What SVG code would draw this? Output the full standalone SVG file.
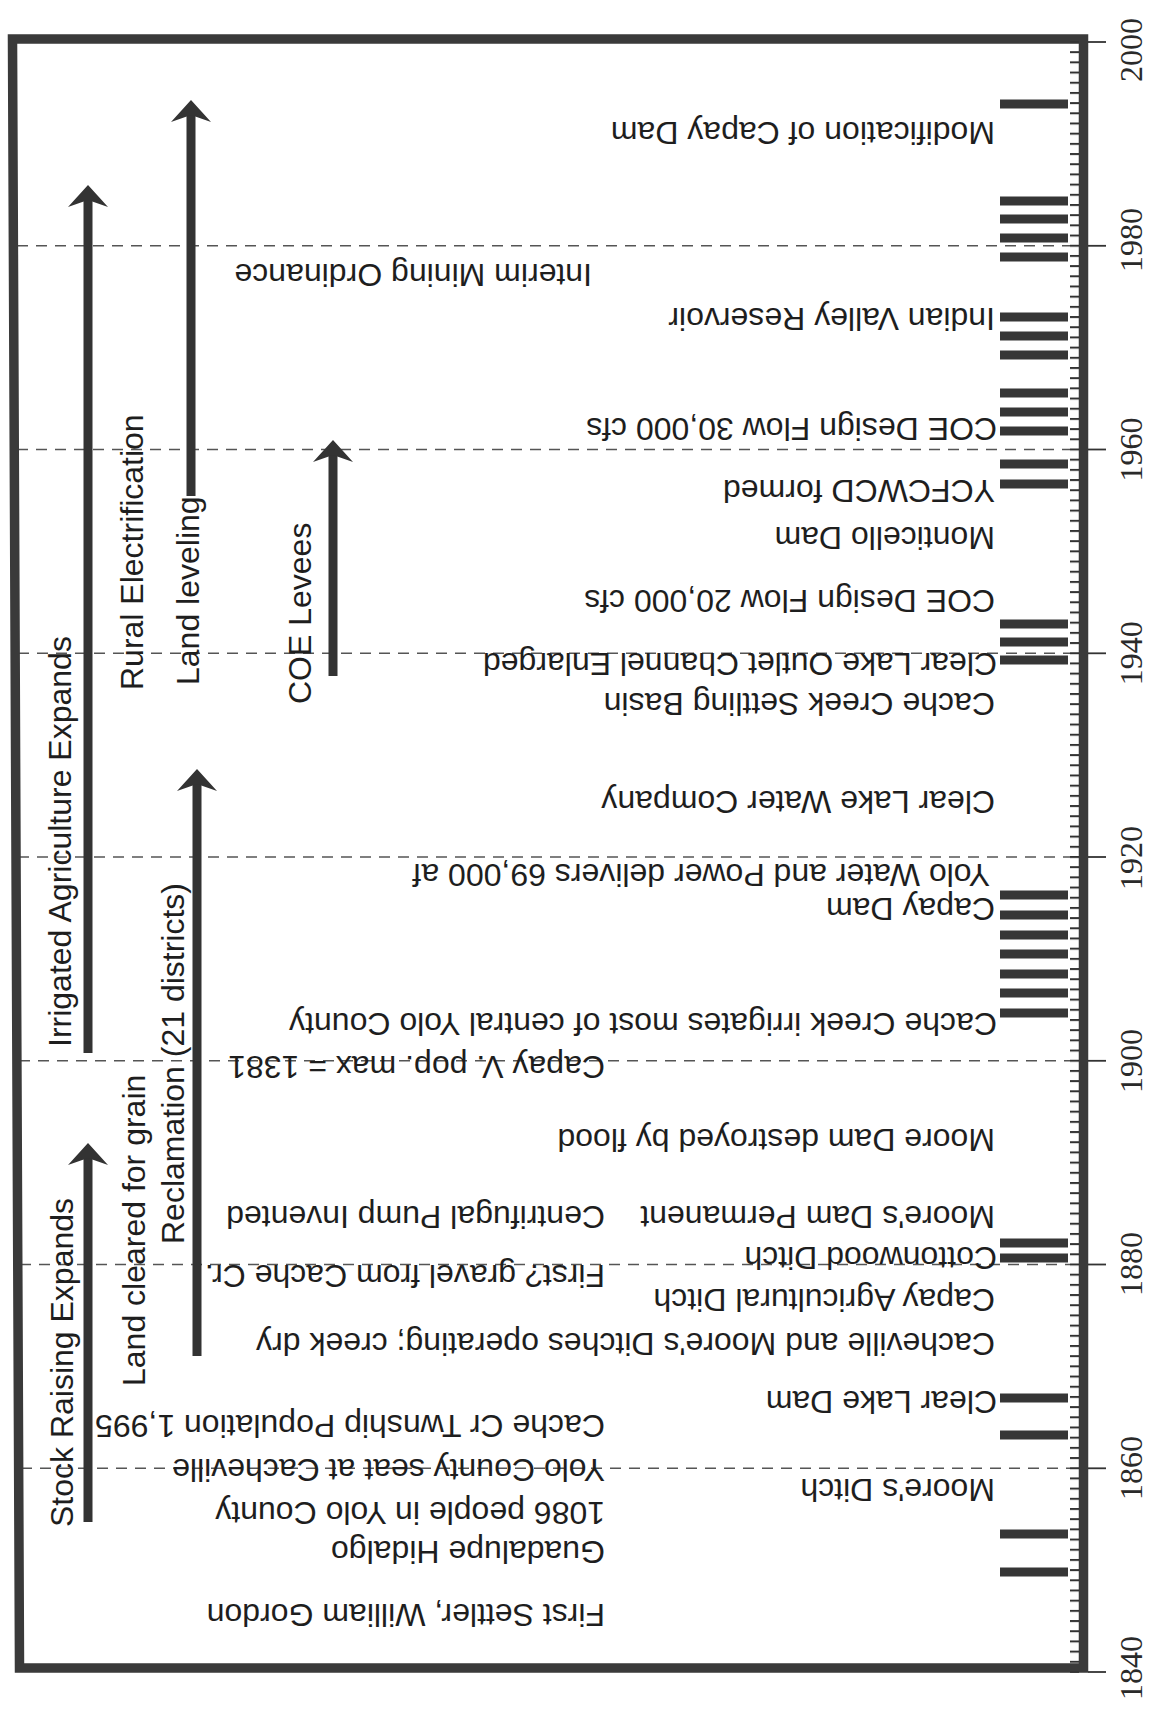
<svg xmlns="http://www.w3.org/2000/svg" width="1151" height="1711" viewBox="0 0 1151 1711">
<style>
.ev{font-family:"Liberation Sans",Arial,sans-serif;font-size:32px;fill:#1e1e1e}
.vl{font-family:"Liberation Sans",Arial,sans-serif;font-size:32px;fill:#1e1e1e}
.yr{font-family:"Liberation Serif","Times New Roman",serif;font-size:32px;fill:#2a2a2a;text-anchor:middle}
.grid{stroke:#555;stroke-width:1.6;stroke-dasharray:11 8;fill:none}
.bar{fill:#363636}
.shaft{stroke:#333;stroke-width:9;fill:none}
.head{fill:#333}
.major{stroke:#333;stroke-width:1.8}
</style>
<defs>
<pattern id="minorTicks" x="0" y="41" width="9" height="10.1875" patternUnits="userSpaceOnUse">
<rect x="0" y="0" width="9" height="2" fill="#333"/>
</pattern>
<path id="head" d="M0,0 L20,22 L0,15 L-20,22 Z"/>
</defs>
<rect width="1151" height="1711" fill="#ffffff"/>

<g id="gridlines">
<line class="grid" x1="17" y1="245.8" x2="1070" y2="245.8"/>
<line class="grid" x1="17" y1="449.5" x2="1070" y2="449.5"/>
<line class="grid" x1="18" y1="653.3" x2="1070" y2="653.3"/>
<line class="grid" x1="18" y1="857" x2="1070" y2="857"/>
<line class="grid" x1="19" y1="1060.8" x2="1070" y2="1060.8"/>
<line class="grid" x1="20" y1="1264.5" x2="1070" y2="1264.5"/>
<line class="grid" x1="21" y1="1468.3" x2="1070" y2="1468.3"/>
</g>

<g id="frame">
<path d="M12.5,39 L1083.5,39 L1083.5,1668 L19.5,1668 Z" fill="none" stroke="#3a3a3a" stroke-width="9.5" stroke-linejoin="miter"/>
</g>

<g id="axis">
<rect x="1070" y="41" width="9" height="1632" fill="url(#minorTicks)"/>
<line class="major" x1="1088" y1="42" x2="1106" y2="42"/>
<line class="major" x1="1088" y1="245.8" x2="1106" y2="245.8"/>
<line class="major" x1="1088" y1="449.5" x2="1106" y2="449.5"/>
<line class="major" x1="1088" y1="653.3" x2="1106" y2="653.3"/>
<line class="major" x1="1088" y1="857" x2="1106" y2="857"/>
<line class="major" x1="1088" y1="1060.8" x2="1106" y2="1060.8"/>
<line class="major" x1="1088" y1="1264.5" x2="1106" y2="1264.5"/>
<line class="major" x1="1088" y1="1468.3" x2="1106" y2="1468.3"/>
<line class="major" x1="1088" y1="1672" x2="1106" y2="1672"/>
<text class="yr" x="1142" y="50" transform="rotate(-90 1142 50)">2000</text>
<text class="yr" x="1142" y="240" transform="rotate(-90 1142 240)">1980</text>
<text class="yr" x="1142" y="449.5" transform="rotate(-90 1142 449.5)">1960</text>
<text class="yr" x="1142" y="653.3" transform="rotate(-90 1142 653.3)">1940</text>
<text class="yr" x="1142" y="858" transform="rotate(-90 1142 858)">1920</text>
<text class="yr" x="1142" y="1061" transform="rotate(-90 1142 1061)">1900</text>
<text class="yr" x="1142" y="1264" transform="rotate(-90 1142 1264)">1880</text>
<text class="yr" x="1142" y="1468" transform="rotate(-90 1142 1468)">1860</text>
<text class="yr" x="1142" y="1668" transform="rotate(-90 1142 1668)">1840</text>
</g>

<g id="event-bars">
<rect class="bar" x="1000" y="99.5" width="68" height="9"/>
<rect class="bar" x="1000" y="196.5" width="68" height="9"/>
<rect class="bar" x="1000" y="214.5" width="68" height="9"/>
<rect class="bar" x="1000" y="233.5" width="68" height="9"/>
<rect class="bar" x="1000" y="252.5" width="68" height="9"/>
<rect class="bar" x="1000" y="312.5" width="68" height="9"/>
<rect class="bar" x="1000" y="331.5" width="68" height="9"/>
<rect class="bar" x="1000" y="350.5" width="68" height="9"/>
<rect class="bar" x="1000" y="388.5" width="68" height="9"/>
<rect class="bar" x="1000" y="407.5" width="68" height="9"/>
<rect class="bar" x="1000" y="426.5" width="68" height="9"/>
<rect class="bar" x="1000" y="459.5" width="68" height="9"/>
<rect class="bar" x="1000" y="479.5" width="68" height="9"/>
<rect class="bar" x="1000" y="619.5" width="68" height="9"/>
<rect class="bar" x="1000" y="637.5" width="68" height="9"/>
<rect class="bar" x="1000" y="655.5" width="68" height="9"/>
<rect class="bar" x="1000" y="890.5" width="68" height="9"/>
<rect class="bar" x="1000" y="910.5" width="68" height="9"/>
<rect class="bar" x="1000" y="930.5" width="68" height="9"/>
<rect class="bar" x="1000" y="949.5" width="68" height="9"/>
<rect class="bar" x="1000" y="969.5" width="68" height="9"/>
<rect class="bar" x="1000" y="988.5" width="68" height="9"/>
<rect class="bar" x="1000" y="1008.5" width="68" height="9"/>
<rect class="bar" x="1000" y="1238.5" width="68" height="9"/>
<rect class="bar" x="1000" y="1253.5" width="68" height="9"/>
<rect class="bar" x="1000" y="1393.5" width="68" height="9"/>
<rect class="bar" x="1000" y="1430.5" width="68" height="9"/>
<rect class="bar" x="1000" y="1529.5" width="68" height="9"/>
<rect class="bar" x="1000" y="1567.5" width="68" height="9"/>
</g>

<g id="events">
<g id="ev-modification"><text class="ev" x="995" y="122" transform="rotate(180 995 122)">Modification of Capay Dam</text></g>
<g id="ev-interim"><text class="ev" x="592" y="264" transform="rotate(180 592 264)">Interim Mining Ordinance</text></g>
<g id="ev-indian-valley"><text class="ev" x="995" y="308" transform="rotate(180 995 308)">Indian Valley Reservoir</text></g>
<g id="ev-coe30"><text class="ev" x="997" y="418" transform="rotate(180 997 418)">COE Design Flow 30,000 cfs</text></g>
<g id="ev-ycfcwcd"><text class="ev" x="995" y="480" transform="rotate(180 995 480)">YCFCWCD formed</text></g>
<g id="ev-monticello"><text class="ev" x="995" y="527" transform="rotate(180 995 527)">Monticello Dam</text></g>
<g id="ev-coe20"><text class="ev" x="995" y="590" transform="rotate(180 995 590)">COE Design Flow 20,000 cfs</text></g>
<g id="ev-outlet"><text class="ev" x="997" y="653" transform="rotate(180 997 653)">Clear Lake Outlet Channel Enlarged</text></g>
<g id="ev-settling"><text class="ev" x="995" y="693" transform="rotate(180 995 693)">Cache Creek Settling Basin</text></g>
<g id="ev-clwc"><text class="ev" x="995" y="791" transform="rotate(180 995 791)">Clear Lake Water Company</text></g>
<g id="ev-yolo-water"><text class="ev" x="990" y="864" transform="rotate(180 990 864)">Yolo Water and Power delivers 69,000 af</text></g>
<g id="ev-capay-dam"><text class="ev" x="995" y="898" transform="rotate(180 995 898)">Capay Dam</text></g>
<g id="ev-irrigates"><text class="ev" x="997" y="1013" transform="rotate(180 997 1013)">Cache Creek irrigates most of central Yolo County</text></g>
<g id="ev-capay-pop"><text class="ev" x="605" y="1056" transform="rotate(180 605 1056)">Capay V. pop. max = 1381</text></g>
<g id="ev-moore-flood"><text class="ev" x="995" y="1129" transform="rotate(180 995 1129)">Moore Dam destroyed by flood</text></g>
<g id="ev-moore-perm"><text class="ev" x="995" y="1206" transform="rotate(180 995 1206)">Moore's Dam Permanent</text></g>
<g id="ev-pump"><text class="ev" x="605" y="1206" transform="rotate(180 605 1206)">Centrifugal Pump Invented</text></g>
<g id="ev-cottonwood"><text class="ev" x="997" y="1247" transform="rotate(180 997 1247)">Cottonwood Ditch</text></g>
<g id="ev-gravel"><text class="ev" x="605" y="1265" transform="rotate(180 605 1265)">First? gravel from Cache Cr.</text></g>
<g id="ev-capay-ditch"><text class="ev" x="995" y="1289" transform="rotate(180 995 1289)">Capay Agricultural Ditch</text></g>
<g id="ev-cacheville"><text class="ev" x="995" y="1333" transform="rotate(180 995 1333)">Cacheville and Moore's Ditches operating; creek dry</text></g>
<g id="ev-clear-lake-dam"><text class="ev" x="997" y="1391" transform="rotate(180 997 1391)">Clear Lake Dam</text></g>
<g id="ev-twnship"><text class="ev" x="605" y="1415" transform="rotate(180 605 1415)">Cache Cr Twnship Population 1,995</text></g>
<g id="ev-county-seat"><text class="ev" x="605" y="1459" transform="rotate(180 605 1459)">Yolo County seat at Cacheville</text></g>
<g id="ev-moores-ditch"><text class="ev" x="995" y="1479" transform="rotate(180 995 1479)">Moore's Ditch</text></g>
<g id="ev-1086"><text class="ev" x="605" y="1502" transform="rotate(180 605 1502)">1086 people in Yolo County</text></g>
<g id="ev-guadalupe"><text class="ev" x="605" y="1541" transform="rotate(180 605 1541)">Guadalupe Hidalgo</text></g>
<g id="ev-first-settler"><text class="ev" x="605" y="1604" transform="rotate(180 605 1604)">First Settler, William Gordon</text></g>
</g>

<g id="trend-labels">
<g id="lbl-irrigated"><text class="vl" x="71" y="1047" transform="rotate(-90 71 1047)">Irrigated Agriculture Expands</text></g>
<g id="lbl-stock"><text class="vl" x="73" y="1527" transform="rotate(-90 73 1527)">Stock Raising Expands</text></g>
<g id="lbl-rural"><text class="vl" x="143" y="690" transform="rotate(-90 143 690)">Rural Electrification</text></g>
<g id="lbl-land-leveling"><text class="vl" x="199" y="685" transform="rotate(-90 199 685)">Land leveling</text></g>
<g id="lbl-coe-levees"><text class="vl" x="311" y="704" transform="rotate(-90 311 704)">COE Levees</text></g>
<g id="lbl-land-cleared"><text class="vl" x="145" y="1386" transform="rotate(-90 145 1386)">Land cleared for grain</text></g>
<g id="lbl-reclamation"><text class="vl" x="184" y="1244" transform="rotate(-90 184 1244)">Reclamation (21 districts)</text></g>
</g>

<g id="connectors">
<line class="shaft" x1="88" y1="1053" x2="88" y2="200"/>
<use href="#head" class="head" x="88" y="185"/>
<line class="shaft" x1="88" y1="1522" x2="88" y2="1158"/>
<use href="#head" class="head" x="88" y="1143"/>
<line class="shaft" x1="191" y1="496" x2="191" y2="115"/>
<use href="#head" class="head" x="191" y="100"/>
<line class="shaft" x1="197" y1="1356" x2="197" y2="784"/>
<use href="#head" class="head" x="197" y="769"/>
<line class="shaft" x1="333" y1="676" x2="333" y2="455"/>
<use href="#head" class="head" x="333" y="440"/>
</g>
</svg>
